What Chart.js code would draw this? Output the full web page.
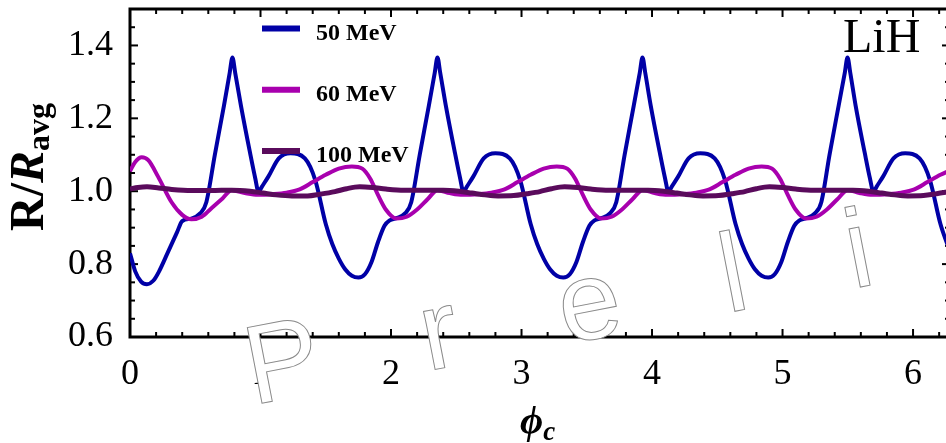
<!DOCTYPE html>
<html>
<head>
<meta charset="utf-8">
<script src="https://cdn.jsdelivr.net/npm/chart.js@4.4.1/dist/chart.umd.min.js"></script>
<style>
  html, body { margin: 0; padding: 0; background: #fff; overflow: hidden; }
  #wrap { position: absolute; left: 0; top: 0; width: 954px; height: 443px; }
</style>
</head>
<body>
<div id="wrap"><canvas id="reportChart"></canvas></div>
<script>
// DATA
const xTicks = [0, 1, 2, 3, 4, 5, 6];
const yTicks = [0.6, 0.8, 1.0, 1.2, 1.4];
const labels = ['50 MeV', '60 MeV', '100 MeV'];

const x50 = [0, 0.04, 0.085, 0.13, 0.18, 0.22, 0.29, 0.36, 0.40, 0.47, 0.54, 0.585, 0.65, 0.72, 0.764, 0.785, 0.806, 0.85, 0.92, 0.96, 0.985, 1.01, 1.06, 1.14, 1.23, 1.34, 1.42, 1.50, 1.55,
  1.60, 1.65, 1.70, 1.75, 1.80, 1.85, 1.90, 1.95, 1.99, 2.04, 2.11, 2.155, 2.22, 2.29, 2.335, 2.356, 2.377, 2.42, 2.49, 2.53, 2.555, 2.58, 2.63, 2.71, 2.80, 2.91, 2.99, 3.07, 3.12,
  3.17, 3.22, 3.27, 3.32, 3.37, 3.42, 3.47, 3.52, 3.56, 3.61, 3.68, 3.726, 3.79, 3.86, 3.906, 3.927, 3.948, 3.99, 4.06, 4.10, 4.126, 4.15, 4.20, 4.28, 4.37, 4.48, 4.56, 4.64, 4.69,
  4.74, 4.79, 4.84, 4.89, 4.94, 4.99, 5.04, 5.09, 5.13, 5.18, 5.25, 5.297, 5.36, 5.43, 5.477, 5.498, 5.519, 5.56, 5.63, 5.67, 5.697, 5.72, 5.77, 5.85, 5.94, 6.05, 6.13, 6.21, 6.283];
const y50 = [0.83, 0.78, 0.752, 0.745, 0.755, 0.778, 0.832, 0.887, 0.918, 0.925, 0.94, 0.97, 1.10, 1.235, 1.325, 1.367, 1.325, 1.235, 1.105, 1.035, 0.998, 1.012, 1.04, 1.09, 1.104, 1.09, 1.03, 0.91, 0.855,
  0.815, 0.785, 0.768, 0.763, 0.772, 0.805, 0.86, 0.905, 0.92, 0.926, 0.94, 0.97, 1.10, 1.235, 1.325, 1.367, 1.325, 1.235, 1.105, 1.035, 0.998, 1.012, 1.04, 1.09, 1.104, 1.09, 1.03, 0.91, 0.855,
  0.815, 0.785, 0.768, 0.763, 0.772, 0.805, 0.86, 0.905, 0.92, 0.926, 0.94, 0.97, 1.10, 1.235, 1.325, 1.367, 1.325, 1.235, 1.105, 1.035, 0.998, 1.012, 1.04, 1.09, 1.104, 1.09, 1.03, 0.91, 0.855,
  0.815, 0.785, 0.768, 0.763, 0.772, 0.805, 0.86, 0.905, 0.92, 0.926, 0.94, 0.97, 1.10, 1.235, 1.325, 1.367, 1.325, 1.235, 1.105, 1.035, 0.998, 1.012, 1.04, 1.09, 1.104, 1.09, 1.03, 0.91, 0.835];

const x60 = [0, 0.04, 0.09, 0.14, 0.215, 0.32, 0.40, 0.47, 0.55, 0.62, 0.70, 0.78,
  0.88, 0.98, 1.10, 1.20, 1.30, 1.40, 1.50, 1.60, 1.70, 1.78, 1.84, 1.90, 1.96, 2.04, 2.12, 2.20, 2.28, 2.356,
  2.45, 2.55, 2.67, 2.77, 2.87, 2.97, 3.07, 3.17, 3.27, 3.35, 3.41, 3.47, 3.53, 3.61, 3.69, 3.77, 3.85, 3.927,
  4.02, 4.12, 4.24, 4.34, 4.44, 4.54, 4.64, 4.74, 4.84, 4.92, 4.98, 5.04, 5.10, 5.18, 5.26, 5.34, 5.42, 5.498,
  5.59, 5.69, 5.81, 5.91, 6.01, 6.11, 6.21, 6.283];
const y60 = [1.055, 1.08, 1.093, 1.085, 1.04, 0.969, 0.935, 0.923, 0.93, 0.952, 0.977, 1.003,
  0.995, 0.99, 0.992, 0.996, 1.005, 1.025, 1.045, 1.062, 1.068, 1.062, 1.035, 0.99, 0.95, 0.925, 0.93, 0.95, 0.978, 1.003,
  0.995, 0.99, 0.992, 0.996, 1.005, 1.025, 1.045, 1.062, 1.068, 1.062, 1.035, 0.99, 0.95, 0.925, 0.93, 0.95, 0.978, 1.003,
  0.995, 0.99, 0.992, 0.996, 1.005, 1.025, 1.045, 1.062, 1.068, 1.062, 1.035, 0.99, 0.95, 0.925, 0.93, 0.95, 0.978, 1.003,
  0.995, 0.99, 0.992, 0.996, 1.005, 1.025, 1.045, 1.057];

const x100 = [0, 0.06, 0.13, 0.22, 0.32, 0.47, 0.62, 0.78, 0.92, 1.02, 1.12, 1.24, 1.36, 1.46,
  1.57, 1.66, 1.76, 1.86, 1.96, 2.10, 2.25, 2.40, 2.52, 2.62, 2.72, 2.82, 2.94, 3.04,
  3.14, 3.23, 3.33, 3.43, 3.53, 3.67, 3.82, 3.97, 4.09, 4.19, 4.29, 4.39, 4.51, 4.61,
  4.71, 4.80, 4.90, 5.00, 5.10, 5.24, 5.39, 5.54, 5.66, 5.76, 5.86, 5.96, 6.08, 6.18, 6.283];
const y100 = [1.006, 1.01, 1.012, 1.009, 1.005, 1.002, 1.002, 1.003, 1.0, 0.995, 0.99, 0.987, 0.987, 0.992,
  0.999, 1.007, 1.012, 1.01, 1.006, 1.003, 1.003, 1.003, 1.0, 0.995, 0.99, 0.987, 0.988, 0.993,
  0.999, 1.007, 1.012, 1.01, 1.006, 1.003, 1.003, 1.003, 1.0, 0.995, 0.99, 0.987, 0.988, 0.993,
  0.999, 1.007, 1.012, 1.01, 1.006, 1.003, 1.003, 1.003, 1.0, 0.995, 0.99, 0.987, 0.988, 0.993, 0.999];

const pts = (xs, ys) => xs.map((x, i) => ({ x: x, y: ys[i] }));

const serif = '"Liberation Serif", "Times New Roman", serif';

// frame, inward ticks and the watermark, drawn under the curves
const framePlugin = {
  id: 'frame',
  beforeDatasetsDraw(chart) {
    const ctx = chart.ctx, a = chart.chartArea, x = chart.scales.x, y = chart.scales.y;
    const seg = (x1, y1, x2, y2) => { ctx.beginPath(); ctx.moveTo(x1, y1); ctx.lineTo(x2, y2); ctx.stroke(); };
    ctx.save();
    ctx.strokeStyle = '#000';
    ctx.lineWidth = 2;
    for (let i = 0; i * 0.2 <= x.max; i++) {
      const px = x.getPixelForValue(i * 0.2);
      const len = i % 5 === 0 ? 8 : 5;
      seg(px, a.bottom, px, a.bottom - len);
      seg(px, a.top, px, a.top + len);
    }
    for (let i = 0; i <= 18; i++) {
      const py = y.getPixelForValue(0.6 + i * 0.05);
      const len = i % 4 === 0 ? 8 : 5;
      seg(a.left, py, a.left + len, py);
      seg(a.right, py, a.right - len, py);
    }
    ctx.lineWidth = 3;
    ctx.strokeRect(a.left, a.top, a.right - a.left, a.bottom - a.top);

    // "Preliminary" watermark
    ctx.translate(253, 405);
    ctx.rotate(-11 * Math.PI / 180);
    ctx.font = '112px "Liberation Sans", Arial, sans-serif';
    ctx.fillStyle = '#fff';
    ctx.strokeStyle = '#8a8a8a';
    ctx.lineWidth = 1;
    let pos = 0;
    for (const ch of 'Preliminary') {
      ctx.fillText(ch, pos, 0);
      ctx.strokeText(ch, pos, 0);
      pos += ctx.measureText(ch).width + 103;
    }
    ctx.restore();
  },
  afterDatasetsDraw(chart) {
    const ctx = chart.ctx;
    ctx.save();
    // legend
    chart.data.datasets.forEach((ds, i) => {
      const ly = 28.5 + i * 61.3;
      ctx.strokeStyle = ds.borderColor;
      ctx.lineWidth = 6;
      ctx.beginPath(); ctx.moveTo(262, ly); ctx.lineTo(300, ly); ctx.stroke();
      ctx.fillStyle = '#000';
      ctx.font = 'bold 24px ' + serif;
      ctx.textBaseline = 'alphabetic';
      ctx.fillText(ds.label, 316, ly + 11);
    });
    ctx.font = '48px ' + serif;
    ctx.fillText('LiH', 843, 52);
    ctx.restore();
  },
  afterDraw(chart) {
    const ctx = chart.ctx;
    ctx.save();
    ctx.fillStyle = '#000';
    ctx.textBaseline = 'alphabetic';
    // y title: R/R_avg
    ctx.translate(43, 231);
    ctx.rotate(-Math.PI / 2);
    let p = 0;
    const put = (t, font, dy) => { ctx.font = font; ctx.fillText(t, p, dy); p += ctx.measureText(t).width; };
    put('R', 'bold 48px ' + serif, 0);
    put('/', 'bold 48px ' + serif, 0);
    put('R', 'italic bold 48px ' + serif, 0);
    put('avg', 'bold 32px ' + serif, 6);
    ctx.restore();
    // x title: phi_c
    ctx.save();
    ctx.fillStyle = '#000';
    ctx.font = 'italic bold 40px ' + serif;
    ctx.fillText('\u03D5', 520, 433);
    const w = ctx.measureText('\u03D5').width;
    ctx.font = 'italic bold 27px ' + serif;
    ctx.fillText('c', 520 + w, 440);
    ctx.restore();
  }
};

const ctx = document.getElementById('reportChart').getContext('2d');

const chart = new Chart(ctx, {
  type: 'line',
  data: {
    datasets: [{
      label: labels[0],
      data: pts(x50, y50),
      borderColor: '#0000a6',
      borderWidth: 4,
      order: 3
    }, {
      label: labels[1],
      data: pts(x60, y60),
      borderColor: '#a800ae',
      borderWidth: 4,
      order: 2
    }, {
      label: labels[2],
      data: pts(x100, y100),
      borderColor: '#5a0b5c',
      borderWidth: 5,
      order: 1
    }]
  },
  options: {
    animation: false,
    responsive: true,
    maintainAspectRatio: false,
    devicePixelRatio: 1,
    layout: { padding: { top: 9, right: 4, left: 0, bottom: 0 } },
    elements: {
      point: { radius: 0 },
      line: { cubicInterpolationMode: 'monotone', fill: false }
    },
    plugins: { legend: { display: false }, tooltip: { enabled: false } },
    scales: {
      x: {
        type: 'linear',
        min: 0,
        max: 2 * Math.PI,
        grid: { display: false },
        border: { display: false },
        afterBuildTicks: s => { s.ticks = xTicks.map(v => ({ value: v })); },
        afterFit: s => { s.height = 106; s.paddingLeft = 0; s.paddingRight = 0; },
        ticks: {
          color: '#000',
          font: { family: serif, size: 36 },
          padding: 8,
          maxRotation: 0,
          autoSkip: false,
          callback: v => String(v)
        }
      },
      y: {
        type: 'linear',
        min: 0.6,
        max: 1.5,
        grid: { display: false },
        border: { display: false },
        afterBuildTicks: s => { s.ticks = yTicks.map(v => ({ value: v })); },
        afterFit: s => { s.width = 130; s.paddingTop = 0; s.paddingBottom = 0; },
        ticks: {
          color: '#000',
          font: { family: serif, size: 36 },
          padding: 9,
          autoSkip: false,
          callback: v => v.toFixed(1)
        }
      }
    }
  },
  plugins: [framePlugin]
});
</script>
</body>
</html>
